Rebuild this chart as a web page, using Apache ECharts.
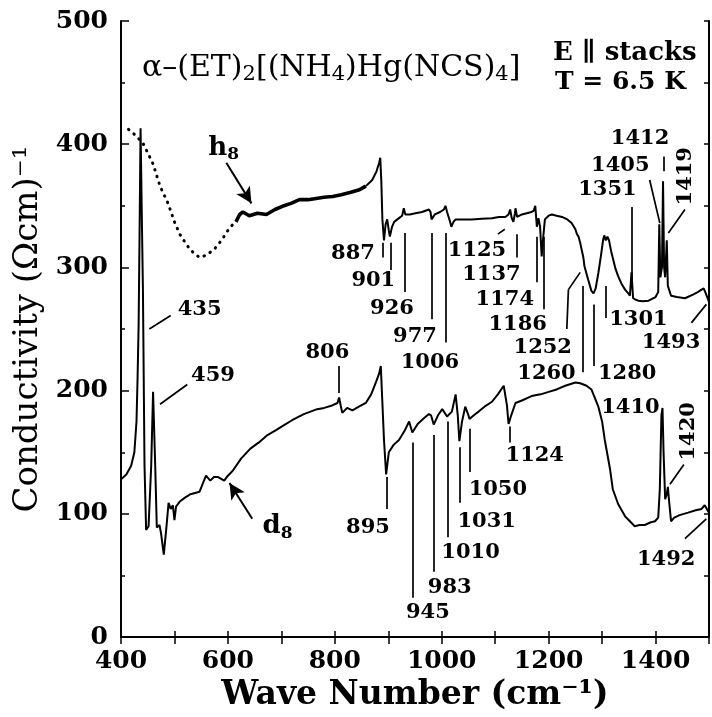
<!DOCTYPE html>
<html><head><meta charset="utf-8">
<script src="https://cdn.jsdelivr.net/npm/echarts@6/dist/echarts.min.js"></script>
<style>html,body{margin:0;padding:0;background:#fff}#c{width:712px;height:717px}</style>
</head><body><div id="c"></div>
<script>
// ---- data (wave number cm^-1, conductivity (Ωcm)^-1) ----
const d8 = [[400,128],[410,132],[419,139],[425,150],[429,175],[431,210],[433,254],[435,340],[436.6,413],[439,340],[441,283],[444,139],[447,87],[451.6,90],[456.5,139],[460,199],[464,139],[467,89],[472,91],[475,84],[480,67],[484.5,87],[489,109],[493,104],[497,107],[500,95],[503,106],[510,110],[519,113],[530,116],[547,118],[559,131],[567,127],[574,130],[581,130],[593,127],[600,131],[609,135],[625,145],[642,153],[658,158],[674,164],[690,168],[705,172],[720,176],[742,181],[767,185],[780,186],[795,188],[805,190],[808,194.5],[811,188],[814,182],[823,186],[833,184],[845,187],[858,190],[868,197],[877,207],[883,214],[886,220],[889,190],[892,160],[896,132],[901,150],[910,156],[920,160],[930,167],[939,175],[945,166],[955,173],[965,177],[976,181],[980,180],[985,172.5],[993,180],[1001,185],[1010,179],[1019,183],[1026,197],[1030,180],[1033,159],[1038,175],[1044,187],[1050,180],[1052,177],[1060,180],[1069,183],[1080,187],[1094,191],[1105,197],[1116,204],[1119,204],[1122,188],[1125,173],[1130,180],[1138,190],[1150,192],[1168,195.6],[1185,197],[1200,199],[1215,201],[1231,204],[1250,206.6],[1259,206],[1265,205],[1271,204],[1280,201],[1293,187],[1300,175],[1305,160],[1315,136],[1320,120],[1330,108],[1343,98],[1352,94],[1361,90],[1370,91],[1380,91],[1390,93],[1399,94],[1405,97],[1408,120],[1411,180],[1413,186],[1415,150],[1418,112],[1421,116],[1423,122],[1425,112],[1429,94],[1435,97],[1445,99],[1461,101],[1475,103],[1486,104],[1492,107],[1496,104],[1500,101]];

const h8Noisy = [[615,337],[622,343],[628,345],[640,342],[655,344],[672,343],[688,347],[702,349.6],[718,352],[734,355],[750,355],[765,356],[780,357],[796,357.6],[812,359],[830,361],[846,363],[858,366]];

const h8 = [[858,366],[870,371],[878,378],[883,385],[885,389],[887,370],[889,339],[892,322],[895,335],[898,339],[901,330],[903,325],[907,333],[911,337],[920,340],[926,342],[929,348],[932,343],[940,343],[951,344],[963,345],[976,347],[979,345],[981,339],[984,341],[987,343],[997,345],[1004,347],[1007,350],[1010,345],[1015,338],[1018,333],[1022,337],[1026,339],[1040,339],[1056,339],[1075,339.5],[1094,340],[1107,341],[1119,341],[1125,343],[1128,347],[1131,340],[1134,337],[1137,344],[1138,348],[1141,341],[1150,343],[1168,345],[1172,346],[1175,350],[1178,333],[1181,340],[1184,333],[1187,309],[1190,325],[1193,339],[1200,342],[1206,343],[1215,342],[1225,341],[1235,339],[1243,336],[1250,331],[1253,327],[1256,325],[1259,320],[1262,314],[1265,308],[1267,301],[1274,290],[1280,281],[1284,279],[1288,283],[1293,295.5],[1298,310],[1302,322.5],[1304,326],[1307,322],[1310,325],[1313,322],[1317,313],[1321,306],[1325,299],[1330,293],[1336,287],[1343,282],[1349,279],[1352,277],[1355,296],[1358,275],[1362,274],[1368,273],[1376,272.5],[1387,273],[1400,276],[1405,280],[1407,335],[1409,292],[1412,300],[1414,370],[1416,300],[1418,292],[1421,322],[1423,285],[1429,277],[1440,276],[1455,275],[1470,278],[1479,280],[1486,282],[1490,283],[1494,279],[1500,272]];

const h8Extrap = [[414,412],[425,408],[441,401],[450,393],[460,384],[473,366],[488,352],[500,337],[510,327],[519,321],[530,314],[547,308],[560,310],[575,315],[588,322],[600,330],[615,338]];

// peak annotations
const peakText = ['435','459','806','887','901','926','977','1006','1125','1137','1174','1186','1252','1260','1280','1301','1351','1405','1412','1419','1493','1410','1420','1124','1050','1031','1010','983','945','895','1492'];
const peakTextAt = [[547,266],[572,212],[786,231],[834,311],[872,289],[907,267],[950,244],[978,223],[1066,314],[1093,294],[1118,274],[1142,254],[1189,235],[1196,214],[1347,214],[1368,258],[1310,363],[1334,383],[1371,405],[1456,374],[1429,239],[1353,186],[1461,167],[1174,147],[1105,120],[1084,94],[1054,69],[1015,40],[974,20],[862,89],[1420,63]];
const peakTextRot = [0,0,0,0,0,0,0,0,0,0,0,0,0,0,0,0,0,0,0,90,0,0,90,0,0,0,0,0,0,0,0];

const leaders = [
  [[453,250],[493,261]],
  [[473,189],[524,205]],
  [[808,220],[808,198]],
  [[890,320],[890,308]],
  [[905,320],[905,298]],
  [[931,328],[931,280]],
  [[981,328],[981,258]],
  [[1007,328],[1007,239]],
  [[1105,327],[1118,331]],
  [[1141,327],[1141,308]],
  [[1177,325],[1177,288]],
  [[1190,325],[1190,266]],
  [[1234,250],[1237,282]],
  [[1237,282],[1259,296]],
  [[1264,285],[1264,215]],
  [[1285,270],[1285,220]],
  [[1306,285],[1306,259]],
  [[1356,349],[1356,285]],
  [[1389,371],[1408,336]],
  [[1415,390],[1415,378]],
  [[1455,347],[1424,328]],
  [[1467,255],[1495,270]],
  [[1127,171],[1127,158]],
  [[1052,169],[1052,134]],
  [[1033,154],[1033,109]],
  [[1011.5,175],[1011.5,81]],
  [[985,164],[985,53]],
  [[946,158],[946,32]],
  [[896.5,130],[896.5,104]],
  [[1453,140],[1427,124]],
  [[1455,80],[1495,96]]
];
const arrows = [
  [[597,385],[644,352]],
  [[645.5,96],[603,125]]
];
const curveNames = [['h','8',[592,397]],['d','8',[693,90]]];

const F = 'DejaVu Serif';
const chart = echarts.init(document.getElementById('c'), null, {renderer:'canvas'});

const labelData = peakText.map((t,i)=>({value:[peakTextAt[i][0],peakTextAt[i][1]], name:t, label:{rotate:peakTextRot[i]}}));
const nameData = curveNames.map(c=>({value:c[2], name:'{m|'+c[0]+'}{s|'+c[1]+'}'}));

const axisCommon = {
  axisLine:{show:true,lineStyle:{color:'#000',width:2}},
  splitLine:{show:false}
};

chart.setOption({
  animation:false,
  backgroundColor:'#fff',
  grid:{left:121,right:1,top:21,bottom:79,show:false},
  xAxis:[
    Object.assign({type:'value',min:400,max:1500,interval:100,position:'bottom',
      name:'Wave Number (cm⁻¹)',nameLocation:'middle',nameGap:39,
      nameTextStyle:{fontFamily:F,fontSize:33,fontWeight:'bold',color:'#000'},
      axisTick:{inside:true,length:6,lineStyle:{color:'#000',width:1.5}},
      axisLabel:{margin:12,fontFamily:F,fontSize:25,fontWeight:'bold',color:'#000',
        formatter:v=>(v%200===0?String(v):'')}},axisCommon),
    Object.assign({type:'value',min:400,max:1500,interval:100,position:'top',
      axisTick:{inside:true,length:7,lineStyle:{color:'#000',width:1.5}},
      axisLabel:{show:false}},axisCommon)
  ],
  yAxis:[
    Object.assign({type:'value',min:0,max:500,interval:100,position:'left',
      name:'Conductivity (Ωcm)⁻¹',nameLocation:'middle',nameGap:72,
      nameTextStyle:{fontFamily:F,fontSize:34,color:'#000'},
      axisTick:{inside:true,length:8,lineStyle:{color:'#000',width:1.5}},
      minorTick:{show:true,splitNumber:2,length:4,lineStyle:{color:'#000',width:1.5}},
      axisLabel:{margin:13,fontFamily:F,fontSize:25,fontWeight:'bold',color:'#000'}},axisCommon),
    Object.assign({type:'value',min:0,max:500,interval:50,position:'right',
      axisTick:{inside:true,length:5,lineStyle:{color:'#000',width:1.5}},
      axisLabel:{show:false}},axisCommon)
  ],
  series:[
    {type:'line',name:'d8',data:d8,symbol:'none',lineStyle:{color:'#000',width:2},z:3,
      markLine:{silent:true,symbol:'none',animation:false,label:{show:false},
        lineStyle:{color:'#000',width:1.7,type:'solid'},
        data:leaders.map(s=>[{coord:s[0]},{coord:s[1]}])}},
    {type:'line',name:'h8 noisy',data:h8Noisy,symbol:'none',lineStyle:{color:'#000',width:3.6},z:3},
    {type:'line',name:'h8',data:h8,symbol:'none',lineStyle:{color:'#000',width:2},z:3,
      markLine:{silent:true,symbol:['none','arrow'],symbolSize:[12,16],animation:false,label:{show:false},
        lineStyle:{color:'#000',width:2,type:'solid'},
        data:arrows.map(s=>[{coord:s[0]},{coord:s[1]}])}},
    {type:'line',name:'h8 extrap',data:h8Extrap,symbol:'none',
      lineStyle:{color:'#000',width:3,type:[0.5,6.5],cap:'round'},z:3},
    {type:'scatter',data:labelData,symbolSize:1,itemStyle:{color:'rgba(0,0,0,0)',opacity:1},z:5,
      label:{show:true,position:'inside',formatter:p=>p.name,fontFamily:F,fontSize:21,fontWeight:'bold',color:'#000',textBorderWidth:0}},
    {type:'scatter',data:nameData,symbolSize:1,itemStyle:{color:'rgba(0,0,0,0)',opacity:1},z:5,
      label:{show:true,position:'inside',formatter:p=>p.name,
        rich:{m:{fontFamily:F,fontSize:26,fontWeight:'bold',color:'#000'},
              s:{fontFamily:F,fontSize:17,fontWeight:'bold',color:'#000',padding:[14,0,0,0]}}}}
  ],
  graphic:[
    {type:'text',left:142,top:53,style:{
      text:'{m|α–(ET)}{s|2}{m|[(NH}{s|4}{m|)Hg(NCS)}{s|4}{m|]}',
      rich:{m:{fontFamily:F,fontSize:30,fill:'#000'},s:{fontFamily:F,fontSize:21,fill:'#000',padding:[14,0,0,0]}}}},
    {type:'text',left:553,top:40,style:{text:'E ∥ stacks',font:'bold 26px "DejaVu Serif"',fill:'#000'}},
    {type:'text',left:555,top:70,style:{text:'T = 6.5 K',font:'bold 25px "DejaVu Serif"',fill:'#000'}}
  ]
});
</script></body></html>
